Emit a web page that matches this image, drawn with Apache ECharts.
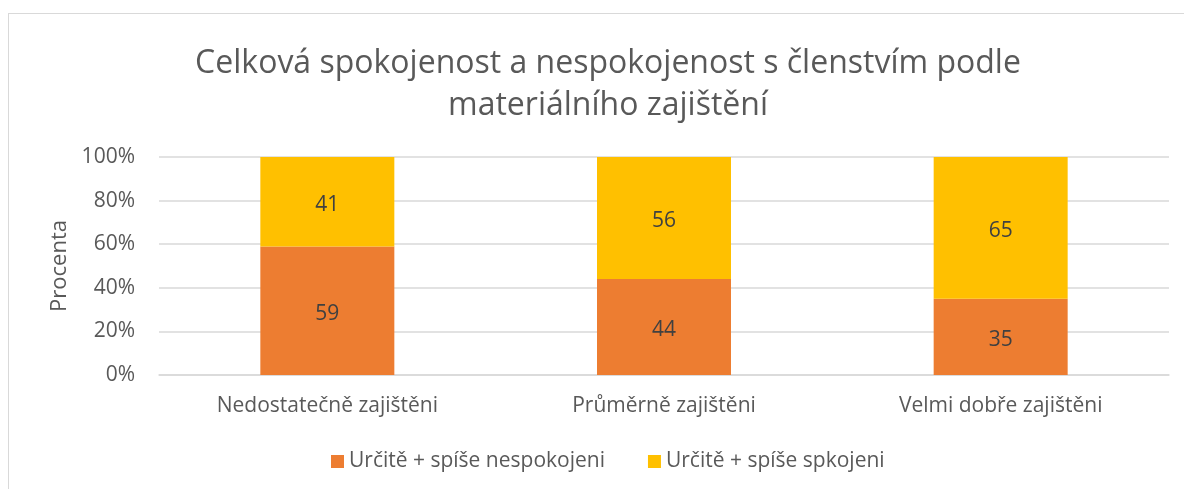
<!DOCTYPE html>
<html><head><meta charset="utf-8">
<script src="https://cdn.jsdelivr.net/npm/echarts@6/dist/echarts.min.js"></script>
<style>html,body{margin:0;padding:0;background:#fff}#c{width:1184px;height:489px}
#frame{position:absolute;left:8px;top:13px;width:1200px;height:500px;border:1px solid #d9d9d9;box-sizing:border-box;pointer-events:none}</style>
</head><body><div id="c"></div><div id="frame"></div>
<script>
const categories = ['Nedostatečně zajištěni', 'Průměrně zajištěni', 'Velmi dobře zajištěni'];
const seriesNames = ['Určitě + spíše nespokojeni', 'Určitě + spíše spkojeni'];
const dissatisfied = [59, 44, 35];
const satisfied = [41, 56, 65];
const yTicks = [0, 20, 40, 60, 80, 100];

const font = '"Open Sans", sans-serif';
const chart = echarts.init(document.getElementById('c'));
chart.setOption({
  animation: false,
  title: {
    text: 'Celková spokojenost a nespokojenost s členstvím podle\nmateriálního zajištění',
    left: 603, top: 38, textAlign: 'center',
    textStyle: { fontFamily: font, fontSize: 32, fontWeight: 'normal', color: '#595959', lineHeight: 42 }
  },
  legend: {
    top: 446, left: 326, itemWidth: 13, itemHeight: 13, itemGap: 43,
    icon: 'rect',
    textStyle: { fontFamily: font, fontSize: 21, color: '#595959' },
    data: seriesNames
  },
  grid: { left: 159, right: 15, top: 157, bottom: 114, containLabel: false },
  xAxis: {
    type: 'category', data: categories,
    axisLine: { lineStyle: { color: '#d9d9d9', width: 1.5 } },
    axisTick: { show: false },
    axisLabel: { fontFamily: font, fontSize: 21, color: '#595959', margin: 21 }
  },
  yAxis: {
    type: 'value', min: yTicks[0], max: yTicks[yTicks.length - 1], interval: 20,
    name: 'Procenta', nameLocation: 'middle', nameGap: 86, nameRotate: 90,
    nameTextStyle: { fontFamily: font, fontSize: 22, color: '#595959' },
    axisLabel: { fontFamily: font, fontSize: 21, color: '#595959', formatter: v => v + '%', margin: 24 },
    splitLine: { lineStyle: { color: '#d9d9d9', width: 1.5 } },
    axisLine: { show: false }, axisTick: { show: false }
  },
  series: [
    { name: seriesNames[0], type: 'bar', stack: 's', data: dissatisfied, barWidth: 134,
      itemStyle: { color: '#ed7d31' },
      label: { show: true, position: 'inside', offset: [0, 3], fontFamily: font, fontSize: 21, color: '#404040' } },
    { name: seriesNames[1], type: 'bar', stack: 's', data: satisfied, barWidth: 134,
      itemStyle: { color: '#ffc000' },
      label: { show: true, position: 'inside', offset: [0, 3], fontFamily: font, fontSize: 21, color: '#404040' } }
  ]
});
</script></body></html>
